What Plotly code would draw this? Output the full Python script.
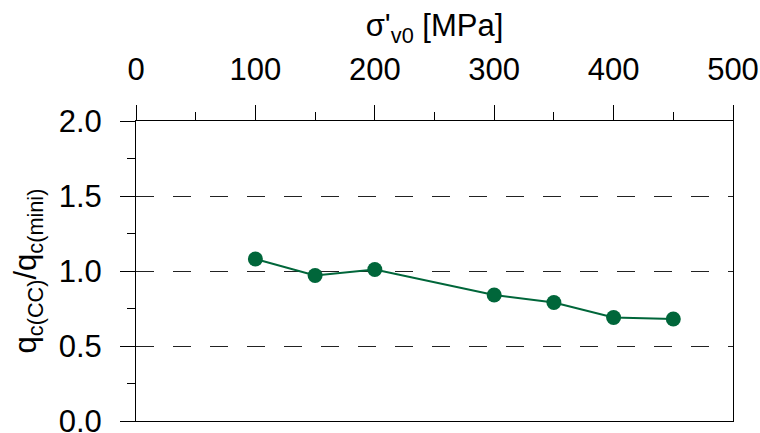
import plotly.graph_objects as go

sigma_v0 = [100, 150, 200, 300, 350, 400, 450]
ratio = [1.08, 0.97, 1.01, 0.84, 0.79, 0.69, 0.68]

x_ticks = [0, 100, 200, 300, 400, 500]
y_ticks = [0.0, 0.5, 1.0, 1.5, 2.0]

green = "#00663a"
font = dict(family="Liberation Sans, Arial, sans-serif", size=31, color="black")

fig = go.Figure()
fig.add_trace(go.Scatter(
    x=sigma_v0, y=ratio, mode="lines+markers",
    line=dict(color=green, width=2),
    marker=dict(color=green, size=15),
    showlegend=False, cliponaxis=False,
))

fig.update_layout(
    width=760, height=433,
    margin=dict(l=136, r=27, t=121, b=12),
    paper_bgcolor="white", plot_bgcolor="white",
    font=font,
    xaxis=dict(
        side="top", range=[0, 500], tickvals=x_ticks,
        ticktext=[str(v) for v in x_ticks],
        showline=True, linecolor="black", linewidth=1, mirror=True,
        ticks="outside", ticklen=15, tickcolor="black", tickwidth=1,
        ticklabelstandoff=13, ticklabeloverflow="allow", automargin=False,
        minor=dict(dtick=50, ticks="outside", ticklen=8, tickcolor="black", showgrid=False),
        showgrid=False, zeroline=False,
        title=dict(text="σ'<sub>v0</sub> [MPa]", standoff=5, font=font),
    ),
    yaxis=dict(
        range=[0, 2.0], tickvals=y_ticks,
        ticktext=[f"{v:.1f}" for v in y_ticks],
        showline=True, linecolor="black", linewidth=1, mirror=True,
        ticks="outside", ticklen=15, tickcolor="black", tickwidth=1,
        ticklabelstandoff=12, ticklabeloverflow="allow", automargin=False,
        minor=dict(dtick=0.25, ticks="outside", ticklen=8, tickcolor="black", showgrid=False),
        showgrid=True, gridcolor="#222222", gridwidth=1, griddash="18px,19px",
        zeroline=False,
        title=dict(text="q<sub>c(CC)</sub>/q<sub>c(mini)</sub>", standoff=12, font=font),
    ),
)

fig.write_html("out.html", config={"displayModeBar": False},
               post_script="document.body.style.margin='0';")
